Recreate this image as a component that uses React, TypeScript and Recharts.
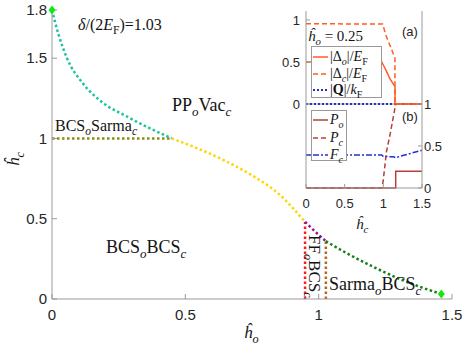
import { ComposedChart, Line, Scatter, XAxis, YAxis, ReferenceLine } from 'recharts'

// main phase diagram: ĥo along x, ĥc along y
const ppVacHo = [0, 0.024, 0.055, 0.117, 0.18, 0.286, 0.449]
const ppVacHc = [1.8, 1.65, 1.505, 1.34, 1.236, 1.132, 1.0]

const sarmaCHo = [0, 0.449]
const sarmaCHc = [1, 1]

const bcsEdgeHo = [0.449, 0.55, 0.65, 0.75, 0.85, 0.949]
const bcsEdgeHc = [1.0, 0.935, 0.86, 0.77, 0.655, 0.48]

const ffEdgeHo = [0.949, 0.99, 1.027]
const ffEdgeHc = [0.48, 0.415, 0.36]

const sarmaOHo = [1.027, 1.1, 1.205, 1.33, 1.46]
const sarmaOHc = [0.36, 0.29, 0.2, 0.107, 0.031]

const ffLeftHo = [0.949, 0.949]
const ffLeftHc = [0, 0.48]
const ffRightHo = [1.027, 1.027]
const ffRightHc = [0, 0.36]

const endHo = [0, 1.46]
const endHc = [1.8, 0.031]

const xTicks = [0, 0.5, 1, 1.5]
const yTicks = [0, 0.5, 1, 1.5, 1.8]

// inset (a): gaps and |Q| vs ĥc at ĥo = 0.25
const gapOHc = [0, 0.979, 1.0, 1.043, 1.086, 1.151, 1.151, 1.5]
const gapOVal = [0.5, 0.5, 0.464, 0.385, 0.298, 0.206, 0, 0]
const gapCHc = [0, 0.99, 1.04, 1.11, 1.15, 1.15, 1.5]
const gapCVal = [0.955, 0.952, 0.8, 0.643, 0.544, 0, 0]
const qHc = [0, 1.5]
const qVal = [0, 0]

// inset (b): polarisations and F_c
const polOHc = [0, 1.16, 1.16, 1.5]
const polOVal = [0, 0, 0.2, 0.2]
const polCHc = [0, 0.985, 1.0, 1.04, 1.09, 1.13, 1.16, 1.5]
const polCVal = [0, 0, 0.1, 0.43, 0.65, 0.85, 1, 1]
const fracHc = [0, 0.98, 1.0, 1.13, 1.16, 1.5]
const fracVal = [0.393, 0.393, 0.375, 0.372, 0.362, 0.45]

const insetXTicks = [0, 0.5, 1, 1.5]
const insetYTicks = [0, 0.5, 1]

const AXIS = '#9a9a9a'
const INK = '#262626'
const SANS = '"Liberation Sans", Arial, sans-serif'
const SERIF = '"Liberation Serif", "Times New Roman", serif'

const pts = (xs: number[], ys: number[]) => xs.map((x, i) => ({ x, y: ys[i] }))

type Seg = [string, string?]

function Tex({ x, y, size, segs, rotate }: { x: number; y: number; size: number; segs: Seg[]; rotate?: number }) {
  let off = 0
  return (
    <text
      x={x}
      y={y}
      fontFamily={SERIF}
      fontSize={size}
      fill="#141414"
      transform={rotate ? `rotate(${rotate} ${x} ${y})` : undefined}
    >
      {segs.map(([t, f = ''], i) => {
        const sub = f.includes('s')
        const target = sub ? size * 0.28 : 0
        const dy = target - off
        off = target
        return (
          <tspan
            key={i}
            dy={dy}
            fontSize={sub ? size * 0.72 : size}
            fontStyle={f.includes('i') ? 'italic' : 'normal'}
            fontWeight={f.includes('b') ? 700 : 400}
          >
            {t}
          </tspan>
        )
      })}
    </text>
  )
}

function Diamond(p: any) {
  const { cx, cy } = p
  return (
    <polygon
      points={`${cx},${cy - 4.5} ${cx + 3.5},${cy} ${cx},${cy + 4.5} ${cx - 3.5},${cy}`}
      fill="#14e614"
    />
  )
}

const dotted = (color: string) => ({
  stroke: color,
  strokeWidth: 2.5,
  strokeDasharray: '2.5 2.5',
  dot: false as const,
  isAnimationActive: false,
})

function PhaseDiagram() {
  const tickStyle = { fontSize: 15, fill: INK, fontFamily: SANS }
  return (
    <ComposedChart width={463} height={348} margin={{ top: 10, right: 11, bottom: 19, left: 12 }}>
      <XAxis
        type="number"
        dataKey="x"
        domain={[0, 1.5]}
        ticks={xTicks}
        interval={0}
        height={30}
        tickSize={-5}
        tickMargin={15}
        stroke={AXIS}
        tick={tickStyle}
      />
      <XAxis
        xAxisId="top"
        orientation="top"
        type="number"
        dataKey="x"
        domain={[0, 1.5]}
        ticks={xTicks}
        interval={0}
        height={0}
        tickSize={-5}
        tick={false}
        stroke={AXIS}
      />
      <YAxis
        type="number"
        domain={[0, 1.8]}
        ticks={yTicks}
        interval={0}
        width={40}
        tickSize={-5}
        tickMargin={10}
        stroke={AXIS}
        tick={tickStyle}
      />
      <YAxis
        yAxisId="right"
        orientation="right"
        type="number"
        domain={[0, 1.8]}
        ticks={yTicks}
        interval={0}
        width={0}
        tickSize={-5}
        tick={false}
        stroke={AXIS}
      />
      <Line data={pts(sarmaCHo, sarmaCHc)} dataKey="y" type="linear" {...dotted('#8c8c14')} />
      <Line data={pts(ppVacHo, ppVacHc)} dataKey="y" type="monotone" {...dotted('#1cc49b')} />
      <Line data={pts(bcsEdgeHo, bcsEdgeHc)} dataKey="y" type="monotone" {...dotted('#ffd60a')} />
      <Line data={pts(ffLeftHo, ffLeftHc)} dataKey="y" type="linear" {...dotted('#ff1a1a')} />
      <Line data={pts(ffRightHo, ffRightHc)} dataKey="y" type="linear" {...dotted('#b8651b')} />
      <Line data={pts(ffEdgeHo, ffEdgeHc)} dataKey="y" type="monotone" {...dotted('#8e1a8e')} />
      <Line data={pts(sarmaOHo, sarmaOHc)} dataKey="y" type="monotone" {...dotted('#178017')} />
      <Scatter data={pts(endHo, endHc)} dataKey="y" shape={Diamond} isAnimationActive={false} />
    </ComposedChart>
  )
}

function Inset() {
  const tickStyle = { fontSize: 13, fill: INK, fontFamily: SANS }
  const orange = '#ff5c26'
  const brown = '#b5403a'
  const blue = '#2233cc'
  return (
    <ComposedChart width={200} height={240} margin={{ top: 11, right: 8, bottom: 22, left: 16 }}>
      <XAxis
        type="number"
        dataKey="x"
        domain={[0, 1.5]}
        ticks={insetXTicks}
        interval={0}
        height={30}
        tickSize={-4}
        tickMargin={15}
        stroke={AXIS}
        tick={tickStyle}
      />
      <XAxis
        xAxisId="top"
        orientation="top"
        type="number"
        dataKey="x"
        domain={[0, 1.5]}
        ticks={insetXTicks}
        interval={0}
        height={0}
        tickSize={-4}
        tick={false}
        stroke={AXIS}
      />
      <YAxis
        yAxisId="a"
        type="number"
        domain={[-1, 1.107]}
        ticks={insetYTicks}
        interval={0}
        width={30}
        tickSize={-4}
        tickMargin={10}
        stroke={AXIS}
        tick={tickStyle}
      />
      <YAxis
        yAxisId="b"
        orientation="right"
        type="number"
        domain={[0, 2.107]}
        ticks={insetYTicks}
        interval={0}
        width={30}
        tickSize={-4}
        tickMargin={6}
        stroke={AXIS}
        tick={tickStyle}
      />
      <ReferenceLine yAxisId="a" y={0} stroke={AXIS} />
      <Line yAxisId="b" data={pts(polOHc, polOVal)} dataKey="y" type="linear" stroke={brown} strokeWidth={1.5} dot={false} isAnimationActive={false} />
      <Line yAxisId="b" data={pts(polCHc, polCVal)} dataKey="y" type="linear" stroke={brown} strokeWidth={1.5} strokeDasharray="5 3" dot={false} isAnimationActive={false} />
      <Line yAxisId="b" data={pts(fracHc, fracVal)} dataKey="y" type="linear" stroke={blue} strokeWidth={1.5} strokeDasharray="6 2 2 2" dot={false} isAnimationActive={false} />
      <Line yAxisId="a" data={pts(qHc, qVal)} dataKey="y" type="linear" stroke={blue} strokeWidth={2} strokeDasharray="2 2" dot={false} isAnimationActive={false} />
      <Line yAxisId="a" data={pts(gapCHc, gapCVal)} dataKey="y" type="linear" stroke={orange} strokeWidth={1.5} strokeDasharray="5 3" dot={false} isAnimationActive={false} />
      <Line yAxisId="a" data={pts(gapOHc, gapOVal)} dataKey="y" type="linear" stroke={orange} strokeWidth={1.5} dot={false} isAnimationActive={false} />
    </ComposedChart>
  )
}

const legendA: { segs: Seg[]; color: string; dash?: string; w: number }[] = [
  { segs: [['|Δ'], ['o', 'is'], ['|/'], ['E', 'i'], ['F', 's']], color: '#ff5c26', w: 1.5 },
  { segs: [['|Δ'], ['c', 'is'], ['|/'], ['E', 'i'], ['F', 's']], color: '#ff5c26', dash: '5 3', w: 1.5 },
  { segs: [['|'], ['Q', 'b'], ['|/'], ['k', 'i'], ['F', 's']], color: '#2233cc', dash: '2 2', w: 2 },
]
const legendB: { segs: Seg[]; color: string; dash?: string; w: number }[] = [
  { segs: [['P', 'i'], ['o', 'is']], color: '#b5403a', w: 1.5 },
  { segs: [['P', 'i'], ['c', 'is']], color: '#b5403a', dash: '5 3', w: 1.5 },
  { segs: [['F', 'i'], ['c', 'is']], color: '#2233cc', dash: '6 2 2 2', w: 1.5 },
]

function Annotations() {
  const rowsA = [57, 74, 90]
  const rowsB = [120, 138, 155]
  return (
    <svg width={463} height={348} style={{ position: 'absolute', left: 0, top: 0, pointerEvents: 'none' }}>
      <Tex x={78} y={30} size={16} segs={[['δ', 'i'], ['/(2'], ['E', 'i'], ['F', 's'], [')=1.03']]} />
      <Tex x={172} y={111} size={18} segs={[['PP'], ['o', 'is'], ['Vac'], ['c', 'is']]} />
      <Tex x={55} y={131} size={16} segs={[['BCS'], ['o', 'is'], ['Sarma'], ['c', 'is']]} />
      <Tex x={106} y={253} size={18} segs={[['BCS'], ['o', 'is'], ['BCS'], ['c', 'is']]} />
      <Tex x={329} y={290} size={18} segs={[['Sarma'], ['o', 'is'], ['BCS'], ['c', 'is']]} />
      <Tex x={309} y={235} size={17} rotate={90} segs={[['FF'], ['o', 'is'], ['BCS'], ['c', 'is']]} />
      <Tex x={244} y={338} size={17} segs={[['ĥ', 'i'], ['o', 'is']]} />
      <Tex x={19} y={166} size={17} rotate={-90} segs={[['ĥ', 'i'], ['c', 'is']]} />
      <Tex x={356} y={229} size={15} segs={[['ĥ', 'i'], ['c', 'is']]} />
      <Tex x={308} y={41} size={15} segs={[['ĥ', 'i'], ['o', 'is'], [' = 0.25']]} />
      <text x={402} y={36} fontFamily={SANS} fontSize={13} fill={INK}>(a)</text>
      <text x={402} y={121} fontFamily={SANS} fontSize={13} fill={INK}>(b)</text>

      <rect x={311.5} y={46.5} width={70} height={51} fill="#fff" stroke={AXIS} />
      {legendA.map((e, i) => (
        <g key={i}>
          <line x1={313} x2={328} y1={rowsA[i]} y2={rowsA[i]} stroke={e.color} strokeWidth={e.w} strokeDasharray={e.dash} />
          <Tex x={330} y={rowsA[i] + 4} size={14} segs={e.segs} />
        </g>
      ))}
      <rect x={311.5} y={110.5} width={35} height={50} fill="#fff" stroke={AXIS} />
      {legendB.map((e, i) => (
        <g key={i}>
          <line x1={313} x2={328} y1={rowsB[i]} y2={rowsB[i]} stroke={e.color} strokeWidth={e.w} strokeDasharray={e.dash} />
          <Tex x={330} y={rowsB[i] + 4} size={14} segs={e.segs} />
        </g>
      ))}
    </svg>
  )
}

export default function App() {
  return (
    <div style={{ position: 'absolute', left: 0, top: 0, width: 463, height: 348, background: '#fff' }}>
      <div style={{ position: 'absolute', left: 0, top: 0 }}>
        <PhaseDiagram />
      </div>
      <div style={{ position: 'absolute', left: 306, top: 11, width: 116, height: 177, background: '#fff' }} />
      <div style={{ position: 'absolute', left: 260, top: 0 }}>
        <Inset />
      </div>
      <Annotations />
    </div>
  )
}
